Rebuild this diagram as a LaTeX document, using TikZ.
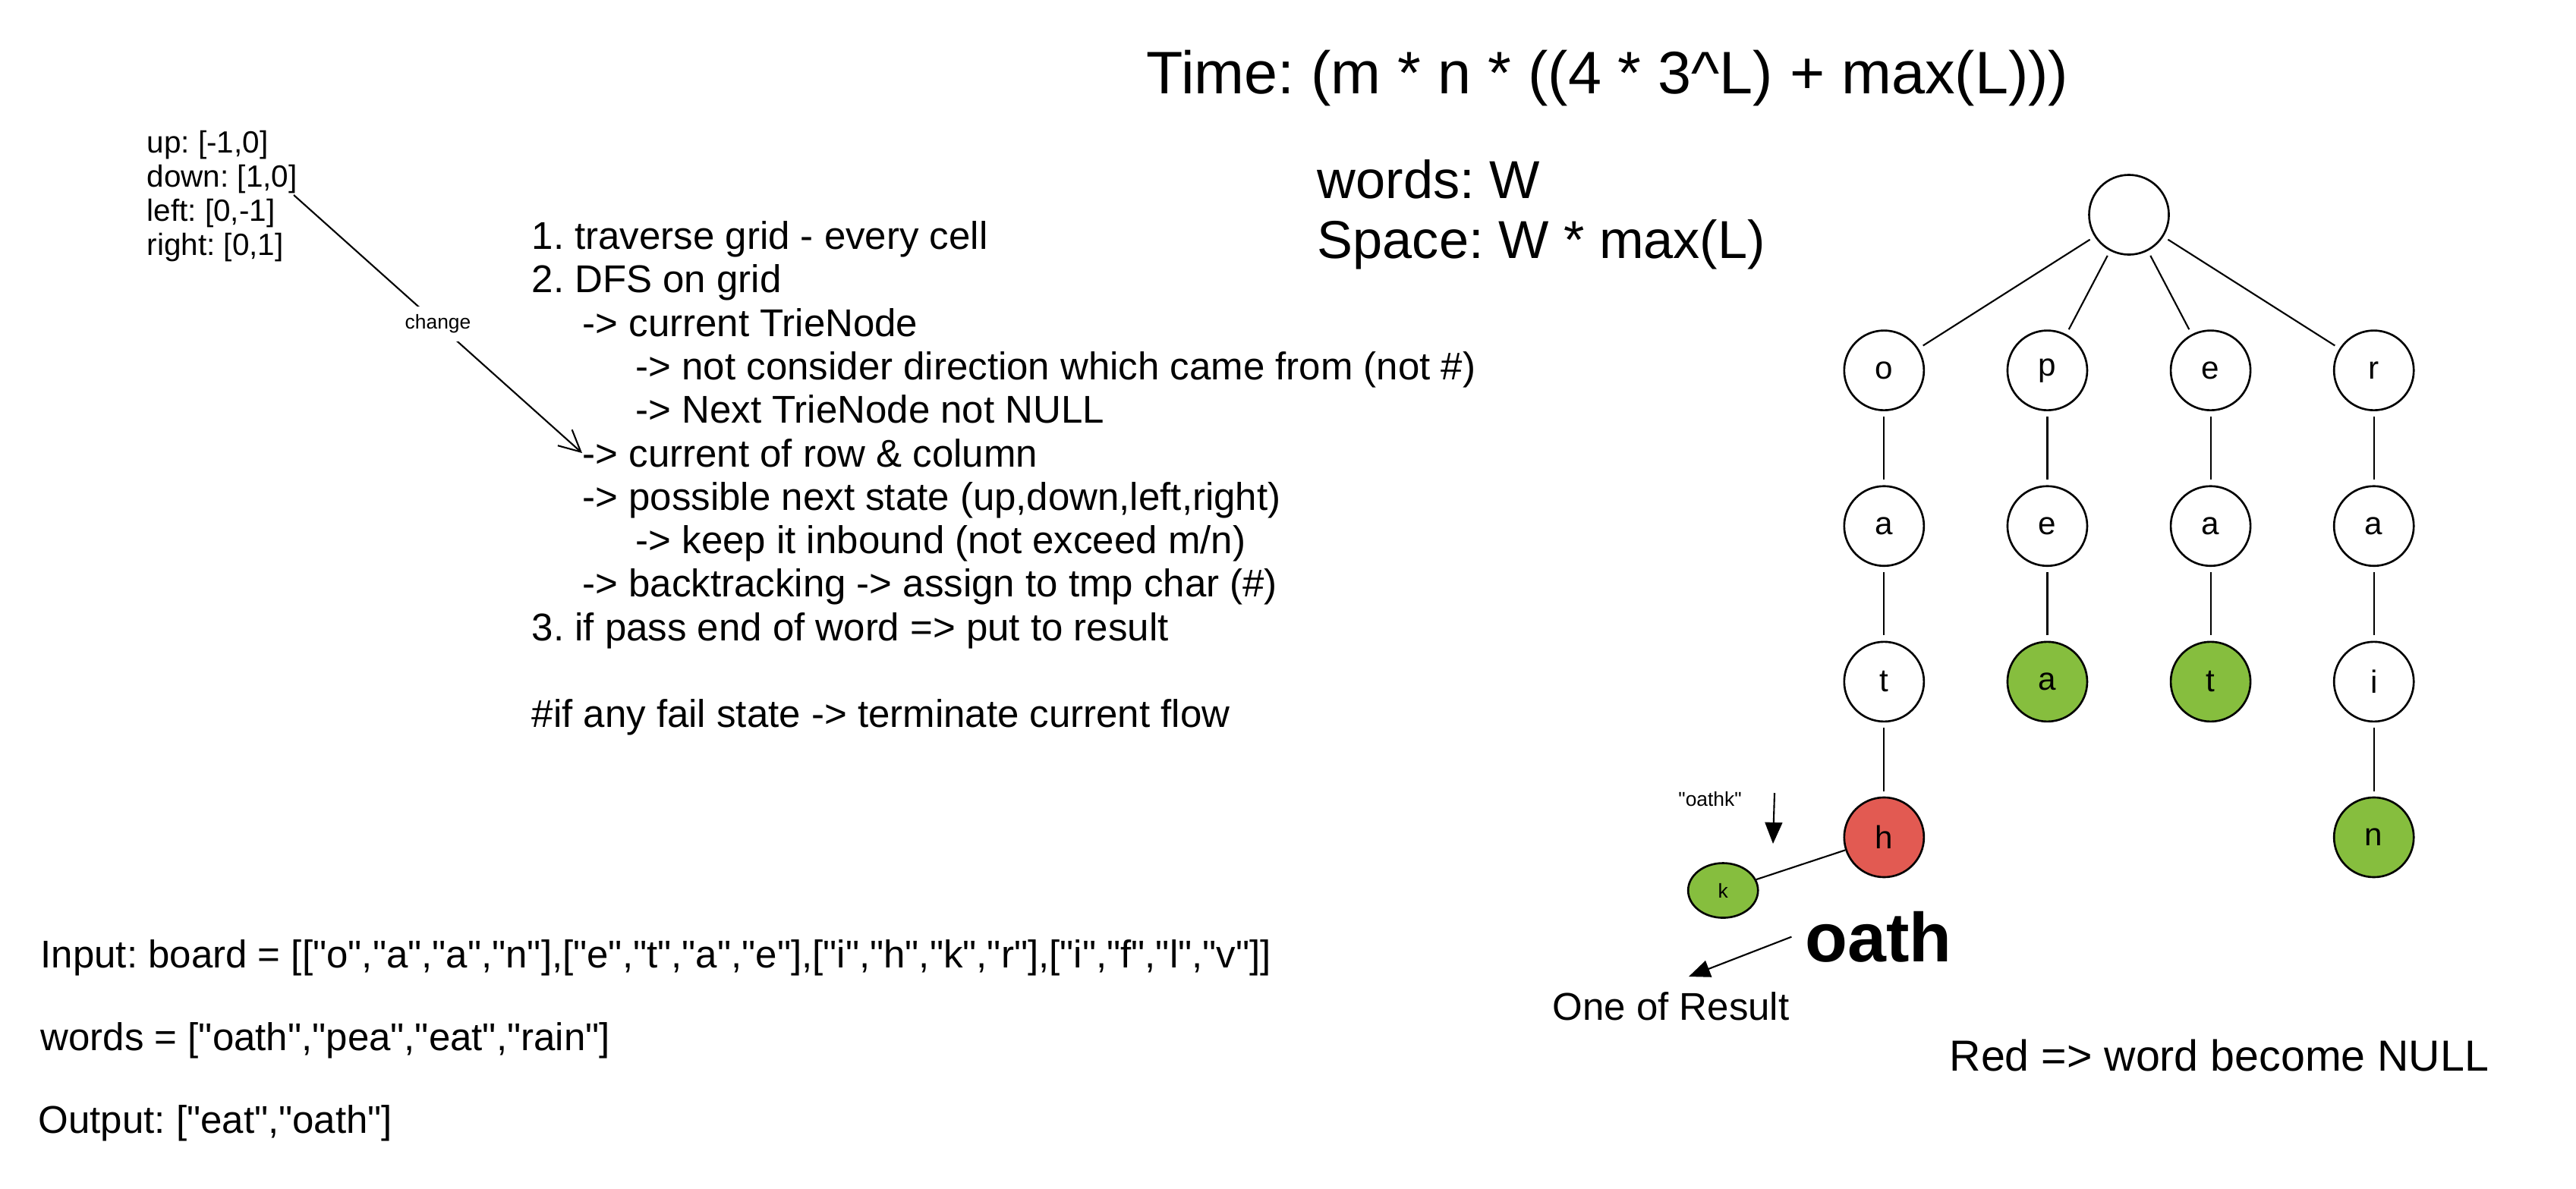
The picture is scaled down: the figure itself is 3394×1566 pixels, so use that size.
\documentclass[tikz,border=0pt]{standalone}
\usepackage{fontspec}
\setmainfont{Liberation Sans}[Ligatures=TeXOff]
\usepackage{xcolor}
\usepackage{tikz}
\usetikzlibrary{arrows.meta, positioning, shapes.geometric}

\definecolor{hitgreen}{HTML}{86BE3E}
\definecolor{deadred}{HTML}{E25A52}
\frenchspacing

\begin{document}
\begin{tikzpicture}[
          x=0.01cm, y=-0.01cm,
          note/.style={anchor=mid west, inner sep=0pt},
          dir/.style={note, font=\fontsize{11.5}{13}\selectfont},
          block/.style={note, font=\fontsize{14.5}{17}\selectfont},
          cost/.style={note, font=\fontsize{20}{24}\selectfont},
          example/.style={note, font=\fontsize{14.5}{17}\selectfont},
          trie/.style={circle, draw, line width=0.75pt, minimum size=1.05cm, inner sep=0pt, font=\fontsize{12}{14}\selectfont},
          hit/.style={fill=hitgreen},
          dead/.style={fill=deadred},
          level distance=2.05cm,
          level 1/.style={sibling distance=2.15cm},
          edge from parent/.style={draw, line width=0.6pt, shorten <=2pt, shorten >=2pt}
        ]
          \useasboundingbox (0,0) rectangle (3394,1566);

          % directions
          \node[dir] (dup) at (193,192) {up: [-1,0]};
          \node[dir] (ddown) at (193,237) {down: [1,0]};
          \node[dir] (dleft) at (193,282) {left: [0,-1]};
          \node[dir] (dright) at (193,327) {right: [0,1]};

          % steps
          \node[block] (s1) at (700,319) {1. traverse grid - every cell};
          \node[block] (s2) at (700,376) {2. DFS on grid};
          \node[block] (s3) at (767,434) {-> current TrieNode};
          \node[block] (s4) at (837,491) {-> not consider direction which came from (not \#)};
          \node[block] (s5) at (837,548) {-> Next TrieNode not NULL};
          \node[block] (s6) at (767,606) {-> current of row \& column};
          \node[block] (s7) at (767,663) {-> possible next state (up,down,left,right)};
          \node[block] (s8) at (837,720) {-> keep it inbound (not exceed m/n)};
          \node[block] (s9) at (767,777) {-> backtracking -> assign to tmp char (\#)};
          \node[block] (s10) at (700,835) {3. if pass end of word => put to result};
          \node[block] (s11) at (700,949) {\#if any fail state -> terminate current flow};

          \coordinate (chg) at (387,257);
          \draw[line width=0.6pt, -{Straight Barb[length=8pt, width=8pt]}] (chg) -- node[fill=white, inner sep=3pt, font=\fontsize{7.5}{9}\selectfont] {change} (s6.west);

          % complexity
          \node[note, font=\fontsize{22.5}{27}\selectfont] (time) at (1510,114) {Time: (m * n * ((4 * 3\textasciicircum L) + max(L)))};
          \node[cost] (wcount) at (1735,252) {words: W};
          \node[cost] (space) at (1735,331) {Space: W * max(L)};

          % example
          \node[example] (input) at (53,1266) {Input: board = [["o","a","a","n"],["e","t","a","e"],["i","h","k","r"],["i","f","l","v"]]};
          \node[example] (wlist) at (53,1375) {words = ["oath","pea","eat","rain"]};
          \node[example] (output) at (50,1484) {Output: ["eat","oath"]};

          % trie
          \begin{scope}[every node/.style={trie}]
          \node (root) at (2805,283) {}
            child {node {o}
              child {node {a}
                child {node {t}
                  child {node[dead] (h) {h}}
                }
              }
            }
            child {node {p}
              child {node {e}
                child {node[hit] {a}}
              }
            }
            child {node {e}
              child {node {a}
                child {node[hit] {t}}
              }
            }
            child {node {r}
              child {node {a}
                child {node {i}
                  child {node[hit] (n) {n}}
                }
              }
            };
          \node[hit, ellipse, minimum width=0.92cm, minimum height=0.72cm, font=\fontsize{7.5}{9}\selectfont, xshift=-2.12cm, yshift=-0.7cm] (k) at (h) {k};
          \end{scope}
          \draw[line width=0.6pt] (h) -- (k);

          \node[font=\fontsize{7.5}{9}\selectfont] (oathk) at (2253,1053) {"oathk"};
          \coordinate (ktop) at (2338,1045);
          \coordinate (kpt) at (2336,1112);
          \draw[line width=0.6pt, -{Triangle[length=8pt, width=6.5pt]}] (ktop) -- (kpt);

          \node[note, font=\fontsize{26}{30}\selectfont\bfseries] (oath) at (2378,1258) {oath};
          \node[note, font=\fontsize{14.5}{17}\selectfont] (result) at (2045,1335) {One of Result};
          \coordinate (res) at (2225,1287);
          \draw[line width=0.6pt, -{Triangle[length=8pt, width=6.5pt]}] ([xshift=-5pt]oath.west) -- (res);

          \node[note, font=\fontsize{16.3}{19}\selectfont] (legend) at (2568,1402) {Red => word become NULL};
        \end{tikzpicture}
\end{document}
